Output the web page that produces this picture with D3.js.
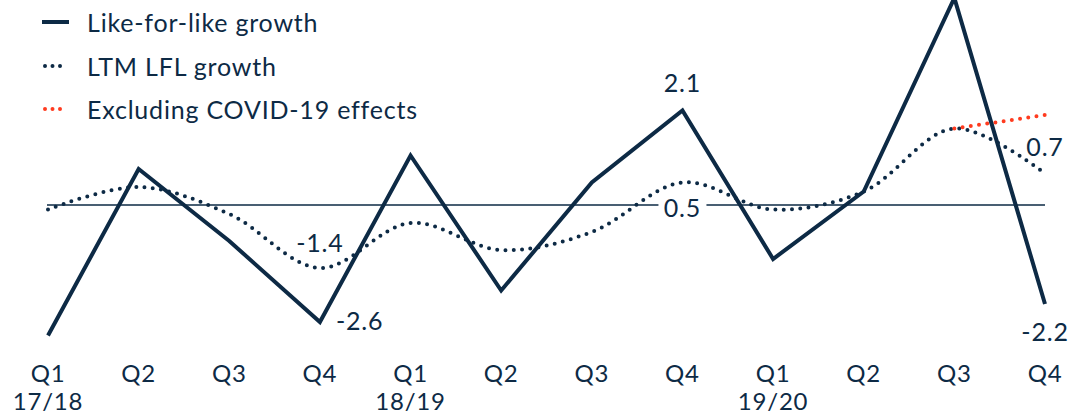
<!DOCTYPE html>
<html>
<head>
<meta charset="utf-8">
<script src="https://cdn.jsdelivr.net/npm/d3@7"></script>
<style>
  html, body { margin: 0; padding: 0; background: #ffffff; }
  svg { display: block; }
  text { font-family: Lato, "Noto Sans", sans-serif; fill: #0d2a45; letter-spacing: 0.8px; }
</style>
</head>
<body>
<script>
// Quarterly like-for-like growth (%), fiscal years 17/18 to 19/20
const quarters = ["Q1", "Q2", "Q3", "Q4", "Q1", "Q2", "Q3", "Q4", "Q1", "Q2", "Q3", "Q4"];
const years = ["17/18", "", "", "", "18/19", "", "", "", "19/20", "", "", ""];
const lflGrowth = [-2.9, 0.8, -0.8, -2.6, 1.1, -1.9, 0.5, 2.1, -1.2, 0.3, 4.6, -2.2];
const ltmGrowth = [-0.1, 0.4, -0.2, -1.4, -0.4, -1.0, -0.6, 0.5, -0.1, 0.3, 1.7, 0.7];
// Last-twelve-months growth excluding COVID-19 effects (Q3 and Q4 19/20)
const exCovidIdx = [10, 11];
const exCovidGrowth = [1.7, 2.0];
const legendLabels = ["Like-for-like growth", "LTM LFL growth", "Excluding COVID-19 effects"];

const W = 1071, H = 415;
const navy = "#0d2a45";
const red = "#ff3b1f";

const svg = d3.select("body").append("svg").attr("width", W).attr("height", H);

const idx = d3.range(quarters.length);
const x = d3.scalePoint().domain(idx).range([48, 1045]);
const y = d3.scaleLinear().domain([-3, 4.5]).range([340, 2.5]);

// Zero baseline
svg.append("line")
  .attr("x1", x(0) - 1).attr("x2", x(idx.length - 1))
  .attr("y1", y(0)).attr("y2", y(0))
  .attr("stroke", navy).attr("stroke-width", 1.5);

// Category axis: quarter and fiscal year
const axis = svg.append("g");
axis.selectAll("text.q").data(idx).join("text")
  .attr("class", "q")
  .attr("x", d => x(d)).attr("y", 382)
  .attr("text-anchor", "middle")
  .style("font-size", "24px")
  .text(d => quarters[d]);
axis.selectAll("text.yr").data(idx.filter(d => years[d])).join("text")
  .attr("class", "yr")
  .attr("x", d => x(d)).attr("y", 410)
  .attr("text-anchor", "middle")
  .style("font-size", "24px")
  .text(d => years[d]);

// LTM LFL growth: smoothed dotted line
const smooth = d3.line().x(d => x(d[0])).y(d => y(d[1])).curve(d3.curveCatmullRom.alpha(0.5));
svg.append("path")
  .attr("d", smooth(idx.map(i => [i, ltmGrowth[i]])))
  .attr("fill", "none").attr("stroke", navy)
  .attr("stroke-width", 4).attr("stroke-linecap", "round")
  .attr("stroke-dasharray", "0 8.3");

// Excluding COVID-19 effects
svg.append("path")
  .attr("d", smooth(exCovidIdx.map((i, k) => [i, exCovidGrowth[k]])))
  .attr("fill", "none").attr("stroke", red)
  .attr("stroke-width", 4).attr("stroke-linecap", "round")
  .attr("stroke-dasharray", "0 8.3");

// Like-for-like growth: solid line
const straight = d3.line().x(d => x(d[0])).y(d => y(d[1]));
svg.append("path")
  .attr("d", straight(idx.map(i => [i, lflGrowth[i]])))
  .attr("fill", "none").attr("stroke", navy)
  .attr("stroke-width", 4).attr("stroke-linejoin", "miter");

// Value labels
const fmt = v => d3.format(".1f")(v).replace("\u2212", "-");
const labels = [
  { i: 3, v: ltmGrowth[3], dx: 0, dy: -16, anchor: "middle" },
  { i: 3, v: lflGrowth[3], dx: 16, dy: 8, anchor: "start" },
  { i: 7, v: lflGrowth[7], dx: 0, dy: -19, anchor: "middle" },
  { i: 7, v: ltmGrowth[7], dx: 0, dy: 34, anchor: "middle", box: true },
  { i: 11, v: ltmGrowth[11], dx: 0, dy: -18, anchor: "middle" },
  { i: 11, v: lflGrowth[11], dx: 0, dy: 37, anchor: "middle" }
];
const lg = svg.append("g");
labels.forEach(l => {
  const lx = x(l.i) + l.dx, ly = y(l.v) + l.dy;
  if (l.box) {
    lg.append("rect")
      .attr("x", lx - 24).attr("y", ly - 19)
      .attr("width", 48).attr("height", 24)
      .attr("fill", "#ffffff");
  }
  lg.append("text")
    .attr("x", lx).attr("y", ly)
    .attr("text-anchor", l.anchor)
    .style("font-size", "25px")
    .text(fmt(l.v));
});

// Legend
const leg = svg.append("g");
const rowY = [22, 66, 109];
leg.append("line")
  .attr("x1", 42).attr("x2", 69).attr("y1", rowY[0]).attr("y2", rowY[0])
  .attr("stroke", navy).attr("stroke-width", 4);
[navy, red].forEach((c, k) => {
  leg.append("line")
    .attr("x1", 45).attr("x2", 62).attr("y1", rowY[k + 1]).attr("y2", rowY[k + 1])
    .attr("stroke", c).attr("stroke-width", 4)
    .attr("stroke-linecap", "round").attr("stroke-dasharray", "0 7.5");
});
leg.selectAll("text").data(legendLabels).join("text")
  .attr("x", 87).attr("y", (d, k) => rowY[k] + 10)
  .style("font-size", "25px")
  .text(d => d);
</script>
</body>
</html>
